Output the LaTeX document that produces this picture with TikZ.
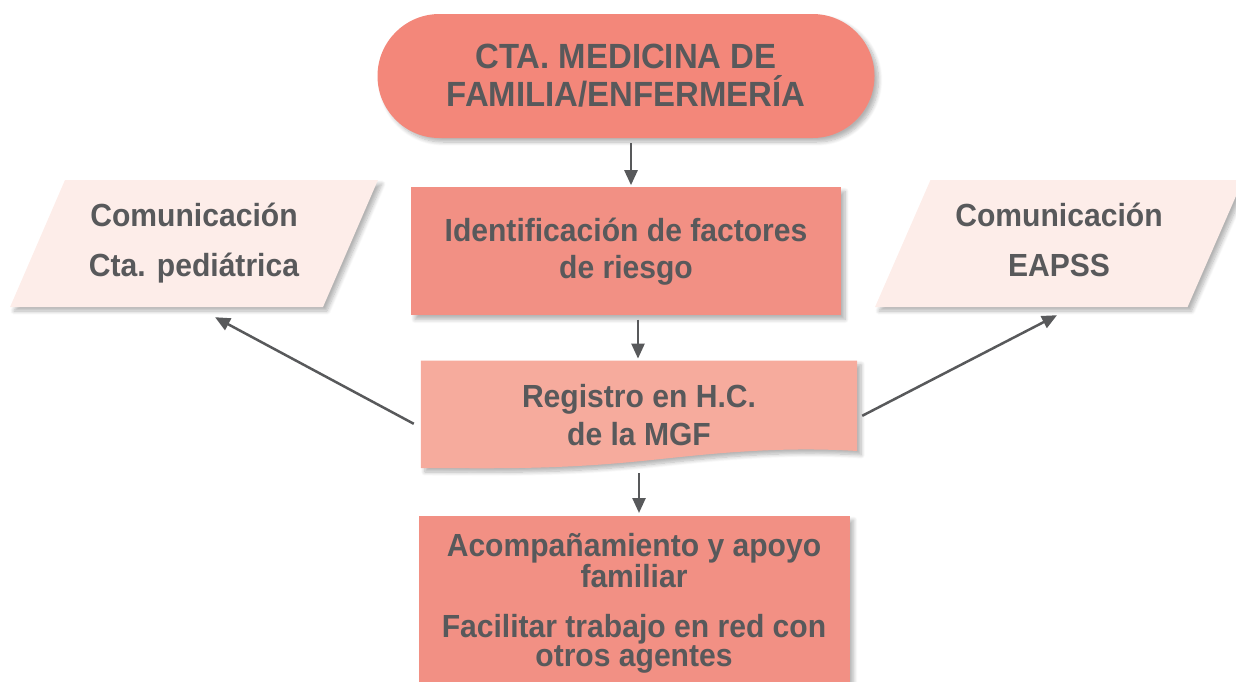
\documentclass[tikz,border=0pt]{standalone}
\usepackage{fontspec}
\setmainfont{Liberation Sans}[FakeStretch=0.94]
\usetikzlibrary{arrows.meta,positioning,shapes.geometric,shadows.blur,backgrounds}

\definecolor{txtgray}{HTML}{58595B}
\definecolor{ctafill}{HTML}{F3877A}
\definecolor{boxfill}{HTML}{F29084}
\definecolor{regfill}{HTML}{F6AB9D}
\definecolor{commfill}{HTML}{FDEDE9}

\begin{document}
\begin{tikzpicture}[
  x=1pt, y=-1pt,
  shade/.style={blur shadow={shadow xshift=4pt, shadow yshift=-4pt, shadow blur steps=8,
                shadow blur radius=4pt, shadow opacity=30}},
  cta/.style={rectangle, rounded corners=62pt, fill=ctafill, shade, minimum width=497pt,
              minimum height=124pt, align=center, text=txtgray,
              font=\fontsize{35}{38}\selectfont\bfseries},
  block/.style={rectangle, fill=boxfill, shade, minimum width=430pt, minimum height=128pt,
                align=center, text=txtgray, font=\fontsize{32}{37}\selectfont\bfseries},
  comm/.style={trapezium, trapezium left angle=62, trapezium right angle=118,
               trapezium stretches=true, fill=commfill, shade, minimum width=368pt,
               minimum height=127pt, align=center, text=txtgray,
               font=\fontsize{32}{50}\selectfont\bfseries},
  arrow/.style={-{Triangle[length=15pt,width=13pt]}, line width=2.5pt, draw=txtgray},
]
  \useasboundingbox (0,0) rectangle (1236,681);

  % Nodes
  \node[cta] (cta) at (626,76) {CTA. MEDICINA DE\\FAMILIA/ENFERMERÍA};
  \node[block, below=49pt of cta] (ident) {Identificación de factores\\de riesgo};
  \node[minimum width=436pt, minimum height=108pt, align=center, text=txtgray,
        font=\fontsize{32}{38}\selectfont\bfseries,
        below=45pt of ident, xshift=13pt] (reg) {Registro en H.C.\\de la MGF};
  \node[block, minimum width=431pt, minimum height=174pt,
        font=\fontsize{32}{29}\selectfont\bfseries,
        below=47pt of reg, xshift=-5pt] (act)
    {Acompañamiento y apoyo\\familiar\\[21pt]Facilitar trabajo en red con\\otros agentes};
  \node[comm] (comped) at (194,243.5) {Comunicación\\Cta. pediátrica};
  \node[comm] (compe) at (1059,243.5) {Comunicación\\EAPSS\vphantom{p}};

  % Document shape behind the record
  \begin{scope}[on background layer]
    \fill[regfill, shade] (reg.north west) -- (reg.north east)
      -- ([yshift=18pt]reg.south east)
      .. controls (760,445) and (680,458) .. (620,463)
      .. controls (540,470) and (470,468) .. ([yshift=1pt]reg.south west) -- cycle;
  \end{scope}

  % Flow
  \draw[arrow] ([xshift=5pt,yshift=-5pt]cta.south) -- ([xshift=5pt,yshift=2pt]ident.north);
  \draw[arrow] ([xshift=12pt,yshift=-4pt]ident.south) -- ([xshift=-1pt,yshift=2pt]reg.north);
  \draw[arrow] ([yshift=-4pt]reg.south) -- ([xshift=5pt,yshift=3pt]act.north);
  \draw[arrow] ([xshift=-7pt,yshift=-9pt]reg.west) -- ([xshift=21pt,yshift=-10pt]comped.south);
  \draw[arrow] ([xshift=5pt,yshift=-1pt]reg.east) -- ([xshift=-2pt,yshift=-8pt]compe.south);
\end{tikzpicture}
\end{document}
